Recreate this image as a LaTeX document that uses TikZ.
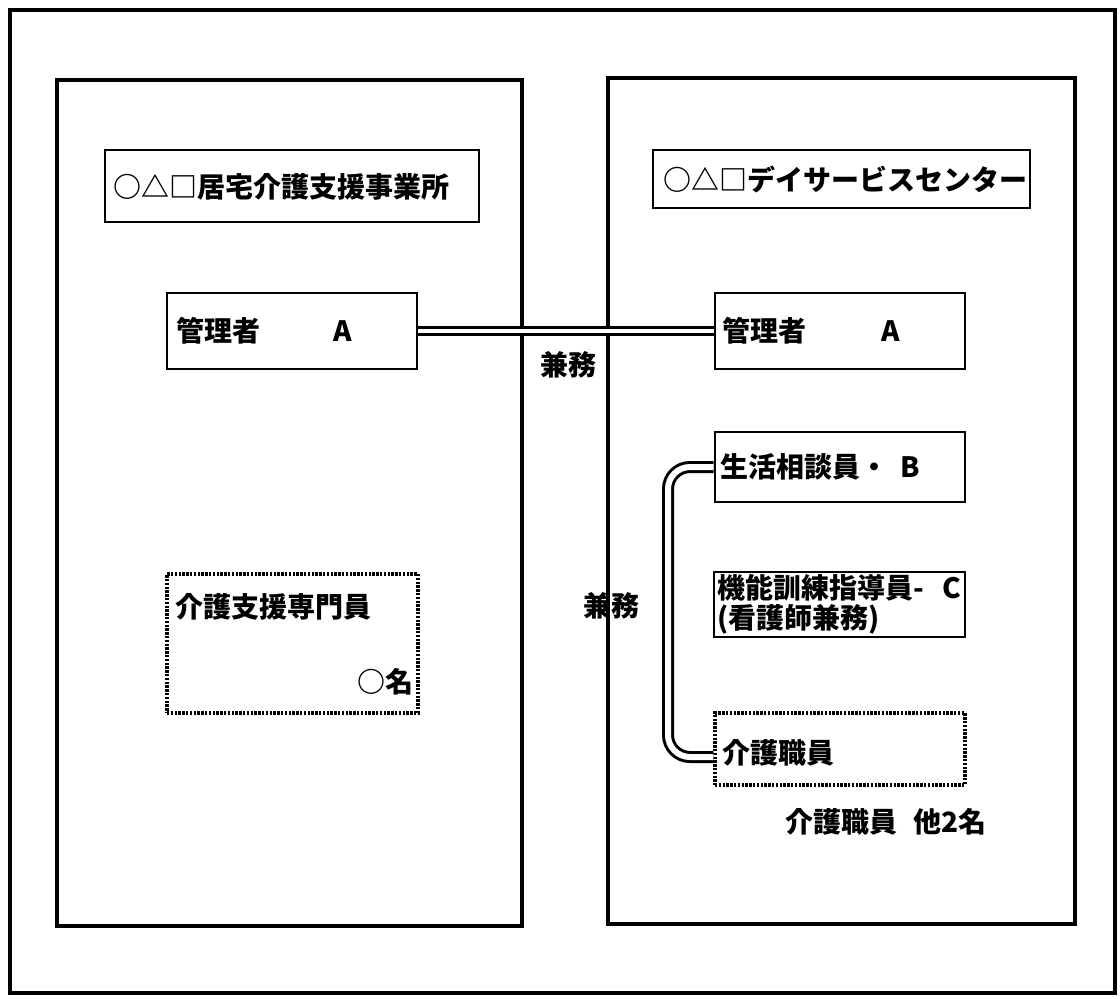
\documentclass[tikz,border=0pt]{standalone}
\usepackage{fontspec}
\newfontfamily\cjk{Noto Sans CJK JP}
\usetikzlibrary{positioning}
\begin{document}
\begin{tikzpicture}[x=0.5pt,y=-0.5pt,
  frame/.style={draw, line width=2.4pt},
  panel/.style={draw, line width=1.6pt},
  box/.style={draw, line width=1.4pt, inner sep=0pt, rectangle},
  dbox/.style={draw, line width=1.6pt, dash pattern=on 1.2pt off 0.7pt, inner sep=0pt, rectangle},
  lbl/.style={font=\cjk\bfseries\fontsize{14pt}{17pt}\selectfont, anchor=west, inner sep=0pt, align=left},
  dblink/.style={double, line width=1.6pt, double distance=2pt},
  dblink2/.style={double, line width=1.5pt, double distance=3pt, rounded corners=11pt}
]
\useasboundingbox (0,0) rectangle (1120,998);
% outer frame and panels
\draw[frame] (10,10) rectangle (1115,993);
\draw[panel] (57,80) rectangle (522,926);
\draw[panel] (608,78) rectangle (1075,924);

% left side
\node[box, minimum width=187pt, minimum height=36pt] (ltitle) at (292,186) {};
\node[lbl] (ltitletext) at (113,187) {○△□居宅介護支援事業所};

\node[box, minimum width=125pt, minimum height=38pt] (lmgr) at (292,331) {};
\node[lbl] (lmgrtext) at (176,331) {管理者};
\node[lbl] (lmgra) at (333,331) {A};

\node[dbox, minimum width=125.5pt, minimum height=69.5pt] (lcm) at (292.5,643.5) {};
\node[lbl] (lcmtext) at (175,607) {介護支援専門員};
\node[lbl] (lcmnum) at (357,682) {○名};

% right side
\node[box, minimum width=188.5pt, minimum height=29pt] (rtitle) at (841.5,179) {};
\node[lbl] (rtitletext) at (663,179) {○△□デイサービスセンター};

\node[box, minimum width=125pt, minimum height=38pt] (rmgr) at (840,331) {};
\node[lbl] (rmgrtext) at (722,331) {管理者};
\node[lbl] (rmgra) at (881,331) {A};

\node[box, minimum width=125pt, minimum height=35pt] (seik) at (840,467) {};
\node[lbl] (seiktext) at (720,467) {生活相談員・\hspace{6pt}B};

\node[box, minimum width=125.5pt, minimum height=32.5pt] (kino) at (839.5,604.5) {};
\node[lbl] (kinotext1) at (717,588) {機能訓練指導員-\hspace{9pt}C};
\node[lbl] (kinotext2) at (717,619) {(看護師兼務)};

\node[dbox, minimum width=125pt, minimum height=36pt] (kaigo) at (840,749) {};
\node[lbl] (kaigotext) at (722,753) {介護職員};

\node[lbl] (others) at (785,822) {介護職員\hspace{8pt}他2名};

% connectors
\draw[dblink] (lmgr.east) -- (rmgr.west);
\node[lbl, anchor=center] (kenmu1) at (568,365) {兼務};

\draw[dblink2] (seik.west) -- (668,467) |- ([yshift=-4pt]kaigo.west);
\node[lbl, anchor=center] (kenmu2) at (611,606) {兼務};
\end{tikzpicture}
\end{document}
